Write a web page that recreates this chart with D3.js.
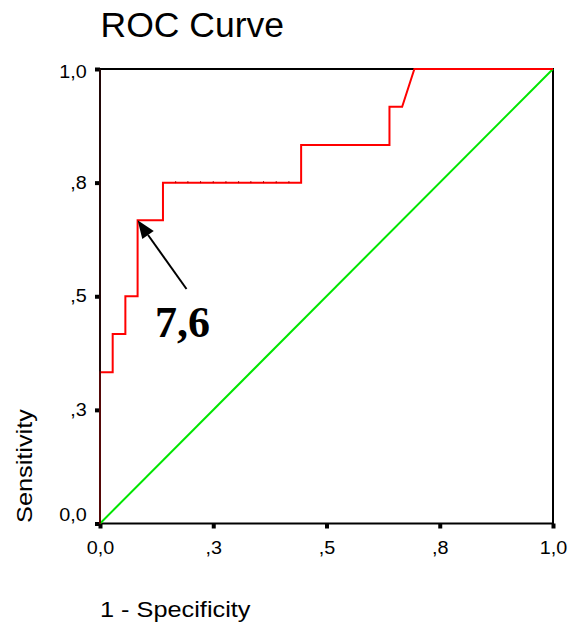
<!DOCTYPE html>
<html>
<head>
<meta charset="utf-8">
<script src="https://cdn.jsdelivr.net/npm/d3@7"></script>
<style>
  html, body { margin: 0; padding: 0; background: #fff; }
  svg { display: block; }
  text { font-family: "Liberation Sans", Arial, sans-serif; fill: #000; }
</style>
</head>
<body>
<svg width="569" height="626"></svg>
<script>
// ROC curve coordinates (1 - specificity, sensitivity)
const fpr = [0, 0, 0.028, 0.028, 0.056, 0.056, 0.083, 0.083, 0.139, 0.139,
             0.167, 0.194, 0.222, 0.25, 0.278, 0.306, 0.333, 0.361, 0.389, 0.417,
             0.444, 0.444, 0.639, 0.639, 0.667, 0.694, 1];
const tpr = [0, 0.333, 0.333, 0.417, 0.417, 0.5, 0.5, 0.667, 0.667, 0.75,
             0.75, 0.75, 0.75, 0.75, 0.75, 0.75, 0.75, 0.75, 0.75, 0.75,
             0.75, 0.833, 0.833, 0.917, 0.917, 1, 1];
const refLine = [[0, 0], [1, 1]];

const tickValues = [0, 0.25, 0.5, 0.75, 1];
const tickLabels = ["0,0", ",3", ",5", ",8", "1,0"];

const cutoffLabel = "7,6";
const cutoffPoint = [0.083, 0.667];   // arrow tip
const arrowTail = [0.191, 0.516];
const labelPos = [0.182, 0.411];

const svg = d3.select("svg"),
      plotLeft = 100, plotRight = 553, plotTop = 69, plotBottom = 523.5;
const stretch = 1.13;

const x = d3.scaleLinear().domain([0, 1]).range([plotLeft, plotRight]);
const y = d3.scaleLinear().domain([0, 1]).range([plotBottom, plotTop]);

// title
svg.append("text")
  .attr("x", 100.5)
  .attr("y", 37.3)
  .style("font-size", "35.5px")
  .text("ROC Curve");

// axes
const xAxis = svg.append("g")
  .attr("transform", `translate(0,${plotBottom})`)
  .call(d3.axisBottom(x).tickValues(tickValues).tickFormat((d, i) => tickLabels[i])
          .tickSizeInner(5).tickSizeOuter(0).tickPadding(13.5));
xAxis.select(".domain").remove();
xAxis.selectAll(".tick line").attr("stroke", "#000").attr("stroke-width", 4);
xAxis.selectAll(".tick text")
  .style("font-size", "17.5px")
  .attr("fill", "#000")
  .attr("transform", `scale(${stretch},1)`);

const yAxis = svg.append("g")
  .attr("transform", `translate(${plotLeft},0)`)
  .call(d3.axisLeft(y).tickValues(tickValues).tickFormat((d, i) => tickLabels[i])
          .tickSizeInner(5).tickSizeOuter(0));
yAxis.select(".domain").remove();
yAxis.selectAll(".tick line").attr("stroke", "#000").attr("stroke-width", 4);
yAxis.selectAll(".tick text")
  .style("font-size", "17.5px")
  .attr("fill", "#000")
  .attr("x", -13.3 / stretch)
  .attr("y", d => {
    const pos = y(d);
    const c = Math.min(Math.max(pos, 72), 515);
    return c - pos;
  })
  .attr("transform", `scale(${stretch},1)`);

// frame
svg.append("rect")
  .attr("x", plotLeft)
  .attr("y", plotTop)
  .attr("width", plotRight - plotLeft)
  .attr("height", plotBottom - plotTop)
  .attr("fill", "none")
  .attr("stroke", "#000")
  .attr("stroke-width", 2);

// diagonal reference
svg.append("path")
  .datum(refLine)
  .attr("fill", "none")
  .attr("stroke", "#00e600")
  .attr("stroke-width", 2)
  .attr("d", d3.line().x(d => x(d[0])).y(d => y(d[1])));

// ROC curve
const pts = fpr.map((f, i) => [f, tpr[i]]);
svg.append("path")
  .datum(pts)
  .attr("fill", "none")
  .attr("stroke", "#ff0000")
  .attr("stroke-width", 2)
  .attr("d", d3.line().x(d => x(d[0])).y(d => y(d[1])));

// small marks where the curve has points on a flat run
svg.append("g")
  .selectAll("rect")
  .data(pts.filter((d, i) => i > 0 && i < pts.length - 1 && tpr[i - 1] === d[1] && tpr[i + 1] === d[1]))
  .join("rect")
  .attr("x", d => x(d[0]) - 0.5)
  .attr("y", d => y(d[1]) - 1.5)
  .attr("width", 1)
  .attr("height", 2)
  .attr("fill", "#b00000");

// left axis line sits over the curve's first vertical run
svg.append("line")
  .attr("x1", plotLeft).attr("x2", plotLeft)
  .attr("y1", plotTop).attr("y2", plotBottom)
  .attr("stroke", "#2a0a0a")
  .attr("stroke-width", 1.6);

// arrow annotation
const tip = [x(cutoffPoint[0]), y(cutoffPoint[1])];
const tail = [x(arrowTail[0]), y(arrowTail[1])];
const dx = tip[0] - tail[0], dy = tip[1] - tail[1];
const len = Math.hypot(dx, dy), ux = dx / len, uy = dy / len;
const headLen = 18, headW = 7;
const base = [tip[0] - ux * headLen, tip[1] - uy * headLen];

svg.append("line")
  .attr("x1", tail[0]).attr("y1", tail[1])
  .attr("x2", base[0]).attr("y2", base[1])
  .attr("stroke", "#000")
  .attr("stroke-width", 2);

svg.append("polygon")
  .attr("points", [
    tip,
    [base[0] - uy * headW, base[1] + ux * headW],
    [base[0] + uy * headW, base[1] - ux * headW]
  ].map(p => p.join(",")).join(" "))
  .attr("fill", "#000");

svg.append("text")
  .attr("x", x(labelPos[0]))
  .attr("y", y(labelPos[1]))
  .attr("text-anchor", "middle")
  .style("font-family", "'Liberation Serif', 'Times New Roman', serif")
  .style("font-weight", "bold")
  .style("font-size", "44px")
  .text(cutoffLabel);

// axis titles
svg.append("text")
  .attr("transform", `translate(100,616.7) scale(${stretch},1)`)
  .style("font-size", "22.4px")
  .text("1 - Specificity");

svg.append("text")
  .attr("transform", `translate(32,523) rotate(-90) scale(${stretch},1)`)
  .style("font-size", "22.4px")
  .text("Sensitivity");
</script>
</body>
</html>
